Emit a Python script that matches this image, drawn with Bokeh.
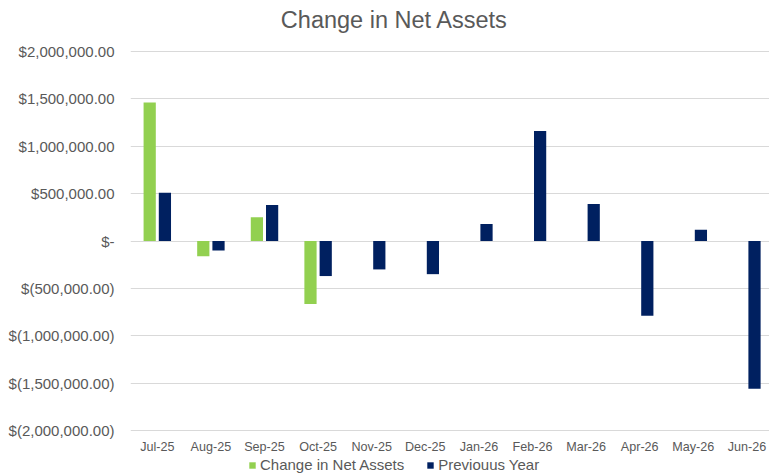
import numpy as np
from bokeh.plotting import figure
from bokeh.models import (Range1d, FixedTicker, Label, Legend, LegendItem,
                          ColumnDataSource)
from bokeh.transform import dodge
from bokeh.embed import file_html
from bokeh.resources import INLINE

# ---- data ----
months = ["Jul-25", "Aug-25", "Sep-25", "Oct-25", "Nov-25", "Dec-25",
          "Jan-26", "Feb-26", "Mar-26", "Apr-26", "May-26", "Jun-26"]
change_net_assets = [1463000, -160000, 250000, -665000,
                     None, None, None, None, None, None, None, None]
previous_year = [510000, -100000, 380000, -370000, -300000, -350000,
                 180000, 1160000, 390000, -790000, 120000, -1560000]
y_tick_values = [2000000, 1500000, 1000000, 500000, 0,
                 -500000, -1000000, -1500000, -2000000]
y_tick_labels = ["$2,000,000.00", "$1,500,000.00", "$1,000,000.00",
                 "$500,000.00", "$-", "$(500,000.00)", "$(1,000,000.00)",
                 "$(1,500,000.00)", "$(2,000,000.00)"]
title_text = "Change in Net Assets"
series_names = ["Change in Net Assets", "Previouus Year"]
colors = ["#92D050", "#002060"]

FONT = "Liberation Sans"
GREY = "#595959"

# ---- layout constants (pixels) ----
W, H = 769, 476
LEFT = 130            # frame left (room for y labels)
FRAME_W = W - LEFT
FRAME_H = H
AXIS_TOP_PX = 51      # pixel row of +2M
AXIS_BOTTOM_PX = 430  # pixel row of -2M
CAT_PX = 53.6         # pixels per category

ymin, ymax = -2000000, 2000000
units_per_px = (ymax - ymin) / (AXIS_BOTTOM_PX - AXIS_TOP_PX)
y_end = ymax + AXIS_TOP_PX * units_per_px
y_start = ymin - (H - AXIS_BOTTOM_PX) * units_per_px
x_start = -0.5
x_end = x_start + FRAME_W / CAT_PX

idx = np.arange(len(months))
src = ColumnDataSource(dict(
    x=idx,
    cur=np.array([np.nan if v is None else v for v in change_net_assets], dtype=float),
    prev=np.array(previous_year, dtype=float),
))
lab_src = ColumnDataSource(dict(x=idx, y=[ymin] * len(months), text=months))

p = figure(frame_width=FRAME_W, frame_height=FRAME_H, output_backend="svg",
           toolbar_location=None, title=None, x_axis_location=None,
           x_range=Range1d(x_start, x_end), y_range=Range1d(y_start, y_end),
           min_border_left=LEFT, min_border_right=0, min_border_top=0,
           min_border_bottom=0)
p.outline_line_color = None
p.background_fill_color = "white"
p.border_fill_color = "white"

bw = 0.228
off = 0.142
r1 = p.vbar(x=dodge("x", -off), top="cur", bottom=0, width=bw, source=src,
            fill_color=colors[0], line_color=None)
r2 = p.vbar(x=dodge("x", off), top="prev", bottom=0, width=bw, source=src,
            fill_color=colors[1], line_color=None)

# category labels under the -2M line
p.text(x="x", y="y", text="text", source=lab_src, y_offset=16,
       text_align="center", text_baseline="middle",
       text_font={"value": FONT}, text_font_size={"value": "12.6px"},
       text_color=GREY)

# y axis
p.yaxis.ticker = FixedTicker(ticks=y_tick_values)
p.yaxis.major_label_overrides = {v: l for v, l in zip(y_tick_values, y_tick_labels)}
p.yaxis.axis_line_color = None
p.yaxis.major_tick_line_color = None
p.yaxis.minor_tick_line_color = None
p.yaxis.major_tick_out = 0
p.yaxis.major_tick_in = 0
p.yaxis.major_label_standoff = 16
p.yaxis.major_label_text_font = FONT
p.yaxis.major_label_text_font_size = "15px"
p.yaxis.major_label_text_color = GREY

for g in p.grid:
    if g.dimension == 0:
        g.visible = False
        g.grid_line_color = None
    else:
        g.ticker = FixedTicker(ticks=y_tick_values)
        g.grid_line_color = "#D9D9D9"
        g.grid_line_width = 1.2

# title (screen units from frame bottom-left)
p.add_layout(Label(x=394 - LEFT, y=FRAME_H - 19, x_units="screen", y_units="screen",
                   text=title_text, text_align="center", text_baseline="middle",
                   text_font=FONT, text_font_size="23.5px",
                   text_color=GREY))

legend = Legend(items=[LegendItem(label=series_names[0], renderers=[r1]),
                       LegendItem(label=series_names[1], renderers=[r2])],
                orientation="horizontal", location=(248 - LEFT, 3),
                label_text_font=FONT, label_text_font_size="15px",
                label_text_color=GREY, glyph_width=8, glyph_height=8,
                label_height=16, label_standoff=4, spacing=22, padding=0,
                margin=0, border_line_color=None, background_fill_alpha=0)
p.add_layout(legend, "center")

open("out.html", "w").write(file_html(p, INLINE))
